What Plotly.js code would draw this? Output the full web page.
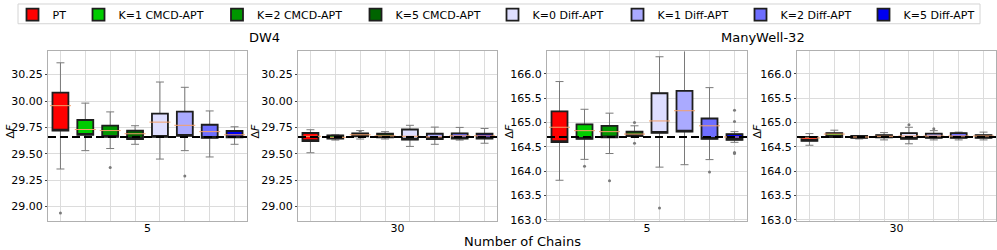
<!DOCTYPE html>
<html>
<head>
<meta charset="utf-8">
<script src="https://cdn.plot.ly/plotly-3.0.1.min.js"></script>
<style>html,body{margin:0;padding:0;background:#fff;}#chart{width:997px;height:250px;}</style>
</head>
<body>
<div id="chart"></div>
<script>
// ---------------- DATA ----------------
const methods = ['PT', 'K=1 CMCD-APT', 'K=2 CMCD-APT', 'K=5 CMCD-APT',
                 'K=0 Diff-APT', 'K=1 Diff-APT', 'K=2 Diff-APT', 'K=5 Diff-APT'];
const colors = ['#ff0000', '#00cc00', '#009600', '#006400',
                '#dedeff', '#aaaaff', '#6e6eff', '#0000f0'];
const datasets = ['DW4', 'ManyWell-32'];
const chainLabels = ['5', '30'];
const trueDF = [29.66, 164.70];

// DW4, 5 chains
const dw4c5Lo  = [29.356, 29.53, 29.55, 29.59, 29.45, 29.53, 29.47, 29.59];
const dw4c5Q1  = [29.72, 29.68, 29.66, 29.64, 29.66, 29.67, 29.65, 29.656];
const dw4c5Med = [29.956, 29.73, 29.72, 29.69, 29.80, 29.77, 29.71, 29.68];
const dw4c5Q3  = [30.08, 29.82, 29.766, 29.72, 29.88, 29.90, 29.775, 29.716];
const dw4c5Hi  = [30.362, 29.98, 29.897, 29.766, 30.18, 30.13, 29.906, 29.756];
const dw4c5OutIdx = [0, 2, 5];
const dw4c5OutVal = [28.94, 29.37, 29.29];

// DW4, 30 chains
const dw4c30Lo  = [29.51, 29.63, 29.64, 29.64, 29.57, 29.59, 29.63, 29.60];
const dw4c30Q1  = [29.62, 29.644, 29.666, 29.656, 29.634, 29.64, 29.644, 29.644];
const dw4c30Med = [29.666, 29.656, 29.68, 29.67, 29.666, 29.66, 29.67, 29.67];
const dw4c30Q3  = [29.697, 29.675, 29.694, 29.69, 29.73, 29.69, 29.694, 29.69];
const dw4c30Hi  = [29.728, 29.68, 29.72, 29.71, 29.77, 29.753, 29.75, 29.74];
const dw4c30OutIdx = [2];
const dw4c30OutVal = [29.712];

// ManyWell-32, 5 chains
const mwc5Lo  = [163.81, 164.24, 164.36, 164.69, 164.08, 164.13, 164.235, 164.59];
const mwc5Q1  = [164.595, 164.66, 164.69, 164.72, 164.785, 164.81, 164.66, 164.64];
const mwc5Med = [164.90, 164.83, 164.81, 164.76, 165.03, 165.24, 164.93, 164.70];
const mwc5Q3  = [165.226, 164.96, 164.93, 164.81, 165.60, 165.65, 165.08, 164.76];
const mwc5Hi  = [165.84, 165.27, 165.19, 164.93, 166.35, 166.60, 165.715, 164.81];
const mwc5OutIdx = [1, 2, 3, 3, 4, 6, 7, 7, 7, 7];
const mwc5OutVal = [164.10, 163.80, 165.00, 164.57, 163.24, 163.98, 165.25, 165.02, 164.38, 164.36];

// ManyWell-32, 30 chains
const mwc30Lo  = [164.53, 164.70, 164.66, 164.64, 164.56, 164.64, 164.64, 164.64];
const mwc30Q1  = [164.62, 164.70, 164.68, 164.69, 164.66, 164.68, 164.68, 164.68];
const mwc30Med = [164.68, 164.76, 164.70, 164.715, 164.72, 164.72, 164.72, 164.72];
const mwc30Q3  = [164.70, 164.78, 164.72, 164.74, 164.78, 164.77, 164.78, 164.74];
const mwc30Hi  = [164.77, 164.84, 164.73, 164.79, 164.90, 164.83, 164.80, 164.80];
const mwc30OutIdx = [4, 5];
const mwc30OutVal = [164.95, 164.87];

// ---------------- BUILD ----------------
const panels = [
  {ds: 0, ch: 0, lo: dw4c5Lo, q1: dw4c5Q1, med: dw4c5Med, q3: dw4c5Q3, hi: dw4c5Hi, oi: dw4c5OutIdx, ov: dw4c5OutVal},
  {ds: 0, ch: 1, lo: dw4c30Lo, q1: dw4c30Q1, med: dw4c30Med, q3: dw4c30Q3, hi: dw4c30Hi, oi: dw4c30OutIdx, ov: dw4c30OutVal},
  {ds: 1, ch: 0, lo: mwc5Lo, q1: mwc5Q1, med: mwc5Med, q3: mwc5Q3, hi: mwc5Hi, oi: mwc5OutIdx, ov: mwc5OutVal},
  {ds: 1, ch: 1, lo: mwc30Lo, q1: mwc30Q1, med: mwc30Med, q3: mwc30Q3, hi: mwc30Hi, oi: mwc30OutIdx, ov: mwc30OutVal}
];

const W = 997, H = 250;
const xDomPx = [[48, 247], [298, 497], [547, 747], [797, 996]];
const yDom = [1 - 221 / H, 1 - 49 / H];
const yRanges = [[28.86, 30.47], [162.965, 166.46]];
const yTitleXPx = [10, 255, 509, 757];
const legendPatchCenterPx = [33.5, 99.5, 238, 376.5, 513.5, 638.5, 761.5, 884.5];
const pos = methods.map((m, i) => i + 1);
const boxW = 0.64;

const traces = [];
const layout = {
  width: W, height: H,
  margin: {l: 0, r: 0, t: 0, b: 0},
  paper_bgcolor: '#fff', plot_bgcolor: '#fff',
  font: {family: 'DejaVu Sans', size: 11, color: '#000'},
  boxmode: 'overlay',
  showlegend: true,
  shapes: [], annotations: []
};

// one legend per method so that the entries sit where the reference puts them
methods.forEach((m, i) => {
  const key = i === 0 ? 'legend' : 'legend' + (i + 1);
  layout[key] = {
    orientation: 'h', x: (legendPatchCenterPx[i] - 21) / W, y: 1 + 3 / H,
    xanchor: 'left', yanchor: 'top', bgcolor: 'rgba(0,0,0,0)', borderwidth: 0,
    font: {size: 11}
  };
});
layout.shapes.push({
  type: 'rect', xref: 'paper', yref: 'paper',
  x0: 18 / W, x1: 980 / W, y0: 1 - 21 / H, y1: 1 - 1 / H,
  line: {color: '#d4d4d4', width: 1}, fillcolor: 'rgba(0,0,0,0)', layer: 'below'
});

panels.forEach((p, k) => {
  const ax = k === 0 ? '' : String(k + 1);
  const xa = 'x' + ax, ya = 'y' + ax;
  p.lo.forEach((v, i) => {
    // whiskers (grey)
    traces.push({
      type: 'box', xaxis: xa, yaxis: ya, x: [pos[i]],
      q1: [p.q1[i]], median: [p.med[i]], q3: [p.q3[i]],
      lowerfence: [p.lo[i]], upperfence: [p.hi[i]],
      width: boxW, whiskerwidth: 0.5, boxpoints: false,
      line: {color: '#7a7a7a', width: 1}, fillcolor: 'rgba(0,0,0,0)',
      showlegend: false, hoverinfo: 'skip'
    });
    // filled box (dark outline)
    traces.push({
      type: 'box', xaxis: xa, yaxis: ya, x: [pos[i]], name: methods[i],
      q1: [p.q1[i]], median: [p.q1[i]], q3: [p.q3[i]],
      lowerfence: [p.q1[i]], upperfence: [p.q3[i]],
      width: boxW, whiskerwidth: 0, boxpoints: false,
      line: {color: '#1e1e1e', width: 1.8}, fillcolor: colors[i],
      legend: i === 0 ? 'legend' : 'legend' + (i + 1),
      legendgroup: methods[i], showlegend: k === 0, hoverinfo: 'skip'
    });
  });
  // median lines (orange)
  traces.push({
    type: 'scatter', mode: 'markers', xaxis: xa, yaxis: ya, x: pos, y: p.med,
    marker: {symbol: 'line-ew', size: 15, line: {color: '#f5a06a', width: 1}},
    showlegend: false, hoverinfo: 'skip'
  });
  // outliers
  traces.push({
    type: 'scatter', mode: 'markers', xaxis: xa, yaxis: ya,
    x: p.oi.map(i => pos[i]), y: p.ov,
    marker: {symbol: 'circle', size: 3, color: '#7a7a7a'},
    showlegend: false, hoverinfo: 'skip', cliponaxis: true
  });

  layout['xaxis' + ax] = {
    domain: [xDomPx[k][0] / W, xDomPx[k][1] / W], anchor: ya,
    range: [0.5, methods.length + 0.5],
    tickvals: [(methods.length + 1) / 2], ticktext: [chainLabels[p.ch]],
    ticks: '', ticklabelstandoff: -4, tickfont: {size: 11}, showgrid: false, zeroline: false,
    minor: {tickvals: pos, showgrid: true, gridcolor: '#dcdcdc', gridwidth: 1, ticks: ''},
    showline: true, mirror: true, linecolor: '#b0b0b0', linewidth: 1,
    fixedrange: true
  };
  layout['yaxis' + ax] = {
    domain: yDom, anchor: xa, range: yRanges[p.ds],
    dtick: p.ds === 0 ? 0.25 : 0.5, tick0: p.ds === 0 ? 29 : 163,
    tickformat: p.ds === 0 ? '.2f' : '.1f',
    ticks: 'outside', ticklen: 2, tickcolor: '#444',
    tickfont: {size: 11}, gridcolor: '#dcdcdc', gridwidth: 1, zeroline: false,
    showline: true, mirror: true, linecolor: '#b0b0b0', linewidth: 1,
    fixedrange: true
  };
  layout.shapes.push({
    type: 'line', xref: xa + ' domain', yref: ya, x0: 0, x1: 1,
    y0: trueDF[p.ds], y1: trueDF[p.ds], layer: 'above',
    line: {color: '#000', width: 2, dash: '8px,4px'}
  });
  layout.annotations.push({
    text: 'Δ<i>F</i>', x: yTitleXPx[k] / W, y: 1 - 130 / H, xref: 'paper', yref: 'paper',
    textangle: -90, showarrow: false, font: {size: 11}, xanchor: 'center', yanchor: 'middle'
  });
});

layout.annotations.push(
  {text: datasets[0], x: 264 / W, y: 1 - 34.5 / H, xref: 'paper', yref: 'paper',
   showarrow: false, font: {size: 13}, xanchor: 'center', yanchor: 'middle'},
  {text: datasets[1], x: 763 / W, y: 1 - 34.5 / H, xref: 'paper', yref: 'paper',
   showarrow: false, font: {size: 13}, xanchor: 'center', yanchor: 'middle'},
  {text: 'Number of Chains', x: 522 / W, y: 1 - 241 / H, xref: 'paper', yref: 'paper',
   showarrow: false, font: {size: 13}, xanchor: 'center', yanchor: 'middle'}
);

Plotly.newPlot('chart', traces, layout, {displayModeBar: false, staticPlot: true});
</script>
</body>
</html>
